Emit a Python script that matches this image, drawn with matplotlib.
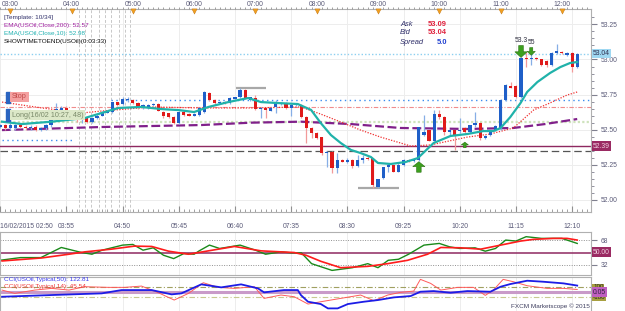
import matplotlib.pyplot as plt
from matplotlib.transforms import blended_transform_factory

plt.rcParams['font.family'] = ['Liberation Sans', 'DejaVu Sans']

# 5-minute USOil candles, 16/02/2015 02:50 .. 12:15
opens = [52.52, 52.53, 52.51, 52.51, 52.53, 52.52, 52.51, 52.52, 52.50, 52.51,
         52.53, 52.58, 52.64, 52.655, 52.63, 52.59, 52.565, 52.58, 52.555, 52.58,
         52.60, 52.62, 52.625, 52.695, 52.68, 52.71, 52.71, 52.69, 52.655, 52.655,
         52.675, 52.685, 52.625, 52.615, 52.59, 52.545, 52.625, 52.61, 52.60, 52.605,
         52.625, 52.76, 52.71, 52.69, 52.70, 52.69, 52.72, 52.73, 52.78, 52.71,
         52.725, 52.65, 52.655, 52.635, 52.66, 52.68, 52.69, 52.655, 52.675, 52.675,
         52.59, 52.51, 52.475, 52.445, 52.33, 52.34, 52.225, 52.285, 52.27, 52.285,
         52.24, 52.28, 52.30, 52.295, 52.09, 52.155, 52.23, 52.245, 52.20, 52.245,
         52.285, 52.275, 52.28, 52.46, 52.495, 52.42, 52.61, 52.59, 52.48, 52.495,
         52.49, 52.51, 52.48, 52.53, 52.55, 52.44, 52.46, 52.495, 52.51, 52.71,
         52.81, 52.81, 52.73, 53.01, 53.00, 53.01, 53.00, 52.99, 52.96, 53.045,
         53.055, 53.03, 53.045, 52.945]
highs = [52.54, 52.54, 52.55, 52.54, 52.545, 52.53, 52.53, 52.53, 52.52, 52.54,
         52.58, 52.69, 52.67, 52.67, 52.64, 52.60, 52.60, 52.59, 52.59, 52.61,
         52.63, 52.63, 52.70, 52.70, 52.73, 52.735, 52.72, 52.695, 52.68, 52.685,
         52.69, 52.69, 52.63, 52.62, 52.595, 52.63, 52.63, 52.615, 52.62, 52.66,
         52.775, 52.765, 52.715, 52.705, 52.705, 52.73, 52.735, 52.795, 52.79, 52.735,
         52.75, 52.66, 52.66, 52.66, 52.71, 52.70, 52.695, 52.68, 52.69, 52.68,
         52.595, 52.52, 52.48, 52.45, 52.35, 52.345, 52.33, 52.29, 52.30, 52.29,
         52.32, 52.315, 52.31, 52.30, 52.15, 52.235, 52.26, 52.25, 52.27, 52.29,
         52.29, 52.29, 52.52, 52.605, 52.50, 52.64, 52.64, 52.595, 52.50, 52.50,
         52.585, 52.515, 52.535, 52.625, 52.555, 52.46, 52.50, 52.53, 52.715, 52.825,
         52.84, 52.815, 53.015, 53.055, 53.045, 53.015, 53.005, 52.995, 53.05, 53.11,
         53.06, 53.05, 53.05, 53.045]
lows = [52.51, 52.50, 52.50, 52.50, 52.51, 52.50, 52.50, 52.49, 52.49, 52.50,
        52.52, 52.57, 52.63, 52.62, 52.58, 52.555, 52.55, 52.55, 52.55, 52.575,
        52.595, 52.615, 52.62, 52.67, 52.675, 52.70, 52.685, 52.65, 52.65, 52.65,
        52.67, 52.63, 52.58, 52.585, 52.54, 52.54, 52.60, 52.595, 52.595, 52.60,
        52.62, 52.705, 52.685, 52.685, 52.685, 52.685, 52.715, 52.725, 52.72, 52.705,
        52.64, 52.585, 52.585, 52.63, 52.62, 52.675, 52.65, 52.60, 52.67, 52.585,
        52.405, 52.44, 52.435, 52.32, 52.235, 52.19, 52.19, 52.265, 52.26, 52.225,
        52.235, 52.26, 52.285, 52.085, 52.085, 52.15, 52.20, 52.195, 52.195, 52.24,
        52.27, 52.27, 52.275, 52.455, 52.415, 52.415, 52.575, 52.46, 52.46, 52.355,
        52.475, 52.475, 52.475, 52.52, 52.425, 52.435, 52.455, 52.49, 52.50, 52.705,
        52.795, 52.725, 52.725, 52.945, 52.96, 52.995, 52.955, 52.95, 52.955, 53.04,
        53.04, 53.025, 52.91, 52.94]
closes = [52.53, 52.51, 52.53, 52.53, 52.52, 52.51, 52.52, 52.50, 52.51, 52.53,
          52.575, 52.65, 52.655, 52.635, 52.59, 52.565, 52.58, 52.555, 52.58, 52.60,
          52.625, 52.625, 52.695, 52.675, 52.715, 52.715, 52.69, 52.655, 52.675, 52.675,
          52.685, 52.635, 52.60, 52.59, 52.545, 52.625, 52.605, 52.60, 52.61, 52.655,
          52.77, 52.71, 52.69, 52.70, 52.69, 52.725, 52.73, 52.78, 52.725, 52.73,
          52.645, 52.655, 52.64, 52.655, 52.695, 52.685, 52.655, 52.675, 52.685, 52.59,
          52.51, 52.475, 52.44, 52.33, 52.34, 52.225, 52.28, 52.27, 52.285, 52.24,
          52.28, 52.30, 52.29, 52.105, 52.145, 52.23, 52.245, 52.20, 52.245, 52.28,
          52.275, 52.285, 52.515, 52.48, 52.42, 52.61, 52.59, 52.48, 52.495, 52.46,
          52.50, 52.48, 52.53, 52.55, 52.44, 52.455, 52.495, 52.525, 52.71, 52.82,
          52.80, 52.73, 53.01, 53.00, 53.01, 53.00, 52.96, 52.96, 53.045, 53.06,
          53.045, 53.045, 52.945, 53.04]

# moving averages (candle index, price)
ema10_x = [0.4, 4.3, 10.1, 16.6, 19.9, 23.2, 27.7, 31.6, 34.9, 38.0, 40.8, 44.7, 48.6,
           51.1, 54.4, 58.3, 60.9, 62.8, 64.8, 66.7, 68.7, 70.6, 72.6, 74.0, 76.5, 79.4,
           81.8, 84.9, 88.2, 91.5, 94.6, 96.6, 98.0, 99.9, 101.9, 103.2, 105.2, 107.7,
           109.7, 111.6, 113.0]
ema10_y = [52.556, 52.539, 52.556, 52.582, 52.618, 52.654, 52.661, 52.646, 52.639, 52.625,
           52.661, 52.696, 52.725, 52.696, 52.689, 52.682, 52.64, 52.546, 52.46, 52.404,
           52.354, 52.332, 52.304, 52.261, 52.254, 52.268, 52.296, 52.404, 52.454, 52.468,
           52.489, 52.489, 52.511, 52.589, 52.689, 52.768, 52.839, 52.904, 52.946, 52.975,
           52.982]
ema200_x = [0.4, 19.9, 39.4, 49.2, 58.9, 68.7, 78.4, 91.5, 100.5, 106.7, 113.0]
ema200_y = [52.496, 52.518, 52.532, 52.549, 52.556, 52.539, 52.511, 52.504, 52.511, 52.539, 52.575]
ma_x = [0.4, 8.2, 16.0, 19.9, 29.7, 39.4, 49.2, 58.9, 62.8, 66.7, 70.6, 74.5, 78.4, 80.4,
        84.3, 91.5, 96.0, 100.5, 104.5, 107.7, 111.0, 113.0]
ma_y = [52.696, 52.654, 52.618, 52.632, 52.661, 52.654, 52.654, 52.661, 52.61, 52.554,
        52.496, 52.446, 52.404, 52.382, 52.39, 52.446, 52.468, 52.511, 52.64, 52.69,
        52.746, 52.768]

# oscillator panel
osc_g_x = [0, 4, 8, 12, 16, 18, 20, 24, 26, 28, 30, 32, 34, 36, 38, 39, 41, 43, 47, 50, 52,
           55, 57, 59, 61, 65, 69, 72, 74, 76, 78, 80, 83, 86, 88, 90, 93, 95, 97, 99, 101,
           103, 106, 108, 110, 113]
osc_g_y = [38.5, 42.5, 42.5, 57.5, 50, 47.5, 53.5, 61, 62, 53.5, 57, 46, 41, 48.5, 47.5,
           52.5, 61, 56, 61, 53.5, 47.5, 51, 49.5, 49.5, 33.5, 23.5, 27.5, 33.5, 27.5, 38.5,
           40, 47.5, 61, 63.5, 58.5, 56, 57, 52, 56, 68.5, 67, 73.5, 71, 71, 71, 63.5]
osc_r_x = [0.4, 8.2, 13.5, 16.6, 21.8, 26.3, 29.7, 33.0, 36.9, 40.8, 45.9, 51.1, 57.6, 59.9,
           62.8, 66.7, 72.0, 75.9, 79.8, 83.7, 86.3, 90.2, 94.1, 98.0, 101.9, 104.4, 108.3,
           111.0, 113.0]
osc_r_y = [37.5, 42, 47.5, 51, 55, 59.5, 59, 52, 47.5, 52.5, 59, 52.5, 50, 46, 37, 27.5,
           29.5, 33.5, 38.5, 47.5, 57.5, 57, 55, 61, 67, 69.5, 71, 71, 68.5]

# CCI panel
cci50_x = [0.4, 10.1, 19.9, 23.8, 29.7, 33.6, 35.5, 39.4, 43.3, 47.2, 50.5, 51.7, 55.6, 58.3,
           58.9, 60.3, 62.8, 64.2, 66.1, 68.1, 71.2, 74.0, 77.1, 80.4, 82.3, 84.9, 88.2, 91.5,
           96.0, 98.0, 99.9, 103.2, 106.3, 110.3, 113.0]
cci50_y = [-100, -66, -33, 33, 33, -53, -33, 147, 87, 147, 67, -13, 33, 33, -66, -200, -246,
           -333, -333, -246, -200, -166, -113, -86, 0, 13, -20, 13, 0, 100, 153, 220, 200,
           167, 123]
cci14_x = [0.4, 2.9, 6.8, 10.1, 13.5, 16.6, 21.3, 24.4, 27.7, 31.0, 34.1, 36.9, 39.8, 42.7,
           45.9, 49.8, 51.7, 55.0, 57.6, 60.3, 62.8, 66.7, 70.6, 73.2, 75.9, 78.4, 81.0, 82.3,
           84.3, 86.3, 89.6, 92.7, 95.0, 96.6, 98.5, 100.5, 103.2, 107.1, 110.3, 113.0]
cci14_y = [33, -33, 33, 67, 33, 100, 87, 87, 113, -20, -166, -33, 180, 87, 67, 100, -133, -66,
           -100, -246, -200, -133, -66, -180, -66, -13, 13, 247, 167, 33, 87, 87, -73, 33, 247,
           200, 120, 67, 67, 45]

# levels and signals
ask_line = 53.04
entry_line = 52.556
stop_line = 52.66
buy_line = 52.711
close_line = 52.385
dash_line = 52.346
marker_hi = (46.2, 52.1, 52.796)
marker_lo = (70.1, 78.1, 52.084)
sell_idx = [102, 104]
sell_top = [53.10, 53.085]
sell_txt = ['53.3', '55']
buy_idx = [82, 91]
buy_low = [52.195, 52.37]

bottom_ticks = [0, 13, 24, 35, 46, 57, 68, 79, 90, 101, 112]
bottom_labels = ['16/02/2015 02:50', '03:55', '04:50', '05:45', '06:40', '07:35',
                 '08:30', '09:25', '10:20', '11:15', '12:10']
top_ticks = [2, 14, 26, 38, 50, 62, 74, 86, 98, 110]
top_labels = ['03:00', '04:00', '05:00', '06:00', '07:00', '08:00', '09:00', '10:00',
              '11:00', '12:00']
price_ticks = [52.00, 52.25, 52.50, 52.75, 53.00, 53.25]
sep_lines = [15.4, 16.6, 17.9, 19.3, 20.5, 21.8, 23.2, 24.4, 25.4]

W, H = 625, 311
fig = plt.figure(figsize=(6.25, 3.11), dpi=100)
fig.patch.set_facecolor('white')
lab = '#5a5a78'
fs = 4.9
fs_small = 4.6
xl = (0.38, 115.7)


def px(x, y):
    return x / W, 1 - y / H


# ---------- main price panel ----------
ax = fig.add_axes([0, 0.3183, 0.9456, 0.6543])
ax.set_xlim(*xl)
ax.set_ylim(51.911, 53.364)
for s in ax.spines.values():
    s.set_color('#b0b0b0')
    s.set_linewidth(0.8)
ax.spines['left'].set_visible(False)

ax.set_yticks(price_ticks)
ax.set_yticklabels(['%.2f' % p for p in price_ticks])
ax.set_yticks([52.0 + 0.05 * k for k in range(27)], minor=True)
ax.yaxis.tick_right()
ax.tick_params(axis='y', which='both', colors='#808090', labelsize=fs, pad=3,
               labelcolor=lab)
ax.tick_params(axis='y', which='major', length=4)
ax.tick_params(axis='y', which='minor', length=2)
ax.set_xticks(bottom_ticks)
ax.set_xticklabels(bottom_labels)
ax.set_xticks(range(0, 116), minor=True)
ax.tick_params(axis='x', which='both', direction='in', colors='#909090', labelsize=fs,
               labelcolor=lab, pad=8)
ax.tick_params(axis='x', which='major', length=4)
ax.tick_params(axis='x', which='minor', length=2)
ax.get_xticklabels()[0].set_ha('left')
ax.grid(True, which='major', color='#ededed', lw=0.7)
ax.set_axisbelow(True)

for v in sep_lines:
    ax.axvline(v, color='#c8c8c8', lw=0.7, ls=(0, (3, 2)), zorder=1)

# top time strip
axt = ax.twiny()
axt.set_xlim(*xl)
axt.set_xticks(top_ticks)
axt.set_xticklabels(top_labels)
axt.set_xticks(range(0, 116), minor=True)
axt.tick_params(axis='x', which='both', colors='#909090', labelsize=fs, labelcolor=lab, pad=0.5)
axt.tick_params(axis='x', which='major', length=0)
axt.tick_params(axis='x', which='minor', length=1.5)
for s in axt.spines.values():
    s.set_visible(False)
tr = blended_transform_factory(ax.transData, ax.transAxes)
ax.scatter(top_ticks, [0.988] * len(top_ticks), marker='v', s=14, color='#f0a020',
           edgecolors='#c07010', linewidths=0.3, transform=tr, clip_on=False, zorder=6)

# horizontal levels
ax.axhline(ask_line, color='#8ccff0', lw=1.0, ls=(0, (1, 1.5)), zorder=2)
ax.axhline(stop_line, color='#f08c8c', lw=0.8, ls=(0, (4, 1.5, 1, 1.5)), zorder=2)
ax.axhline(entry_line, color='#cfe3bd', lw=1.6, ls=(0, (1, 1)), zorder=2)
ax.axhline(close_line, color='#8e2860', lw=1.0, zorder=2)
ax.axhline(dash_line, color='#555555', lw=0.9, ls=(0, (6, 3)), zorder=2)
ax.hlines(buy_line, 21.8, 115.7, color='#3a8cf0', lw=1.0, ls=(0, (1, 2.5)), zorder=2)
ax.hlines(52.425, 0.38, 14.4, color='#3a8cf0', lw=1.0, ls=(0, (1, 2.5)), zorder=2)
ax.hlines(marker_hi[2], marker_hi[0], marker_hi[1], color='#a8a8a8', lw=1.6, zorder=3)
ax.hlines(marker_lo[2], marker_lo[0], marker_lo[1], color='#a8a8a8', lw=1.6, zorder=3)

# moving averages
ax.plot(ema200_x, ema200_y, color='#80208a', lw=1.6, ls=(0, (4, 1.6)), zorder=3)
ax.plot(ma_x, ma_y, color='#f03030', lw=0.9, ls=(0, (1, 1.2)), zorder=3)

# candles
bw = 0.62
for i in range(len(opens)):
    o, h, l, c = opens[i], highs[i], lows[i], closes[i]
    up = c >= o
    body_c = '#1f5fc8' if up else '#e01a1a'
    wick_c = '#86aee6' if up else '#f29a9a'
    ax.vlines(i, l, h, color=wick_c, lw=0.9, zorder=4)
    ht = max(abs(c - o), 0.005)
    ax.bar(i, ht, bottom=min(o, c), width=bw, color=body_c, lw=0, zorder=5)

ax.plot(ema10_x, ema10_y, color='#20b2aa', lw=1.6, zorder=6)

# signal arrows
for xi, top, t in zip(sell_idx, sell_top, sell_txt):
    big = t == sell_txt[0]
    ln = 0.085 if big else 0.055
    ax.arrow(xi, top, 0, -ln, width=0.9 if big else 0.6, head_width=2.4 if big else 1.6,
             head_length=0.04 if big else 0.028, length_includes_head=True,
             fc='#3ca01e', ec='#2a7012', lw=0.4, zorder=7)
    ax.text(xi, top + 0.012, t, fontsize=fs, color='#303040', ha='center', va='bottom', zorder=7)
for k, (xi, lo) in enumerate(zip(buy_idx, buy_low)):
    ln = 0.075 if k == 0 else 0.04
    ax.arrow(xi, lo, 0, ln, width=0.9 if k == 0 else 0.5, head_width=2.4 if k == 0 else 1.4,
             head_length=0.035 if k == 0 else 0.02, length_includes_head=True,
             fc='#3ca01e', ec='#2a7012', lw=0.4, zorder=7)

# labels inside main panel
fig.text(*px(4, 17), '[Template: 10/34]', fontsize=fs_small, color='#30306a', va='center')
fig.text(*px(4, 25), 'EMA(USOil,Close,200): 52.57', fontsize=fs_small, color='#a020a0', va='center')
fig.text(*px(4, 33), 'EMA(USOil,Close,10): 52.98', fontsize=fs_small, color='#20b0b0', va='center')
fig.text(*px(4, 41), 'SHOWTIMETOEND(USOil)(0:03:33)', fontsize=fs_small, color='#101010', va='center')

fig.text(*px(400, 24), 'Ask', fontsize=5.4, color='#30306a', style='italic', va='center')
fig.text(*px(400, 33), 'Bid', fontsize=5.4, color='#30306a', style='italic', va='center')
fig.text(*px(400, 42), 'Spread', fontsize=5.4, color='#30306a', style='italic', va='center')
fig.text(*px(447, 24), '53.09', fontsize=5.4, color='#e0203c', weight='bold', va='center', ha='right')
fig.text(*px(447, 33), '53.04', fontsize=5.4, color='#e0203c', weight='bold', va='center', ha='right')
fig.text(*px(447, 42), '5.0', fontsize=5.4, color='#2040d0', weight='bold', va='center', ha='right')

fig.text(*px(12, 97), 'Stop', fontsize=5.2, color='#c04848', va='center',
         bbox=dict(boxstyle='square,pad=0.25', fc='#f4a0a0', ec='none'))
fig.text(*px(12, 115), 'Long(16/02 10:27, 48)', fontsize=5.2, color='#7a8a6a', va='center',
         bbox=dict(boxstyle='square,pad=0.25', fc='#dce8c8', ec='none'))
ax.add_patch(plt.Rectangle((6 / W, 1 - 103 / H), 4 / W, 11 / H, transform=fig.transFigure,
                           color='#2a64c0', zorder=9, clip_on=False))
ax.add_patch(plt.Rectangle((6 / W, 1 - 121 / H), 4 / W, 12 / H, transform=fig.transFigure,
                           color='#2a64c0', zorder=9, clip_on=False))

# right axis price boxes
fig.text(*px(593, 53.5), '53.04', fontsize=fs, color='#303050', va='center',
         bbox=dict(boxstyle='square,pad=0.2', fc='#9fd8f2', ec='none'))
fig.text(*px(593, 146), '52.39', fontsize=fs, color='#f0d0e0', va='center',
         bbox=dict(boxstyle='square,pad=0.2', fc='#9a2a62', ec='none'))

# ---------- oscillator panel ----------
ax2 = fig.add_axes([0, 0.1158, 0.9456, 0.1392])
ax2.set_xlim(*xl)
ax2.set_ylim(16.7, 80.9)
for s in ax2.spines.values():
    s.set_color('#b0b0b0')
    s.set_linewidth(0.8)
ax2.set_xticks(bottom_ticks)
ax2.set_xticklabels([])
ax2.tick_params(axis='x', length=0)
ax2.grid(True, axis='x', color='#ededed', lw=0.7)
ax2.yaxis.tick_right()
ax2.set_yticks([32, 68])
ax2.set_yticklabels(['32', '68'])
ax2.tick_params(axis='y', colors='#808090', labelsize=fs, labelcolor=lab, length=4, pad=3)
ax2.axhline(68, color='#909090', lw=0.7, ls=(0, (1, 1.5)))
ax2.axhline(32, color='#909090', lw=0.7, ls=(0, (1, 1.5)))
ax2.axhline(50, color='#8e2860', lw=1.1)
ax2.plot(osc_g_x, osc_g_y, color='#1a8a1a', lw=1.0)
ax2.plot(osc_r_x, osc_r_y, color='#ff1c1c', lw=1.2)
fig.text(*px(593, 252.3), '50.00', fontsize=fs, color='#f0d0e0', va='center',
         bbox=dict(boxstyle='square,pad=0.2', fc='#9a2a62', ec='none'))

# ---------- CCI panel ----------
ax3 = fig.add_axes([0, -0.005, 0.9456, 0.1143])
ax3.set_xlim(*xl)
ax3.set_ylim(-416, 294)
for s in ax3.spines.values():
    s.set_color('#b0b0b0')
    s.set_linewidth(0.8)
ax3.set_xticks(bottom_ticks)
ax3.set_xticklabels([])
ax3.tick_params(axis='x', length=0)
ax3.grid(True, axis='x', color='#ededed', lw=0.7)
ax3.set_yticks([])
ax3.axhline(100, color='#a0a060', lw=0.8, ls=(0, (5, 2, 1, 2)))
ax3.axhline(-100, color='#c8c890', lw=0.8, ls=(0, (5, 2, 1, 2)))
ax3.axhline(0, color='#c99ac9', lw=2.2)
ax3.plot(cci14_x, cci14_y, color='#ff5a5a', lw=0.7)
ax3.plot(cci50_x, cci50_y, color='#1c1ce6', lw=1.3)
fig.text(*px(4, 279.5), 'CCI(USOil,Typical,50): 122.81', fontsize=fs_small, color='#3a3af0', va='center')
fig.text(*px(4, 286.5), 'CCI(USOil,Typical,14): 45.54', fontsize=fs_small, color='#f03a3a', va='center')
fig.text(*px(590, 306), 'FXCM Marketscope \u00a9 2015', fontsize=fs_small, color='#404060',
         va='center', ha='right')
fig.text(*px(593, 287), '100', fontsize=4.5, color='#202020', va='center',
         bbox=dict(boxstyle='square,pad=0.1', fc='#a8a040', ec='none'))
fig.text(*px(593, 297.5), '-100', fontsize=4.5, color='#202020', va='center',
         bbox=dict(boxstyle='square,pad=0.1', fc='#a8a040', ec='none'))
fig.text(*px(593, 292), '0.05', fontsize=fs, color='#302040', va='center',
         bbox=dict(boxstyle='square,pad=0.15', fc='#c060c0', ec='none'))

fig.savefig('out.png', dpi=100, facecolor='white')
